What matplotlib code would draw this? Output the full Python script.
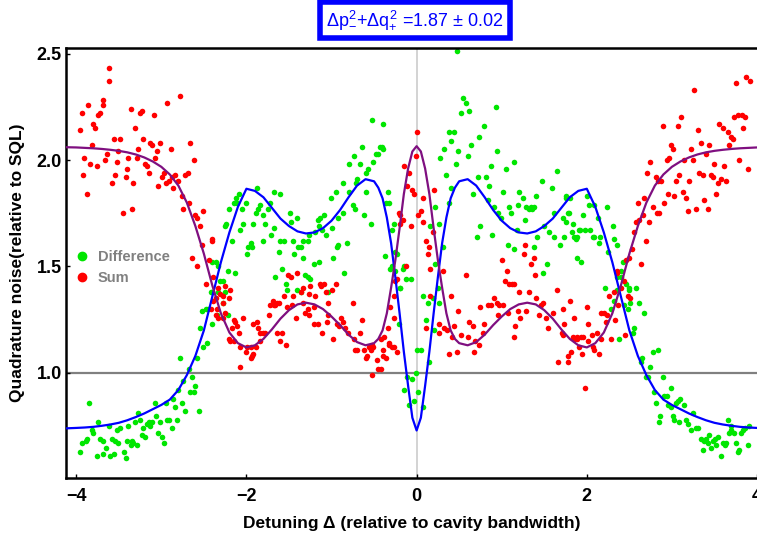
import numpy as np
import matplotlib
matplotlib.use("Agg")
import matplotlib.pyplot as plt
from matplotlib.lines import Line2D

plt.rcParams['font.family'] = ['Liberation Sans', 'DejaVu Sans']
plt.rcParams['mathtext.fontset'] = 'custom'
plt.rcParams['mathtext.rm'] = 'Liberation Sans'
plt.rcParams['mathtext.it'] = 'Liberation Sans'

# measured points: Difference (green)
diff_xy = [
    (-3.85, 0.86), (-3.95, 0.63), (-3.89, 0.68), (-3.93, 0.67), (-3.87, 0.69), (-3.81, 0.73), (-3.80, 0.72),
    (-3.74, 0.77), (-3.75, 0.61), (-3.69, 0.62), (-3.72, 0.69), (-3.68, 0.68), (-3.65, 0.65), (-3.60, 0.61),
    (-3.58, 0.69), (-3.56, 0.62), (-3.54, 0.68), (-3.51, 0.67), (-3.62, 0.75), (-3.52, 0.73), (-3.48, 0.74),
    (-3.44, 0.63), (-3.42, 0.60), (-3.40, 0.68), (-3.39, 0.75), (-3.36, 0.66), (-3.34, 0.68), (-3.33, 0.67),
    (-3.31, 0.77), (-3.28, 0.66), (-3.27, 0.81), (-3.25, 0.78), (-3.23, 0.71), (-3.21, 0.74), (-3.19, 0.70),
    (-3.17, 0.76), (-3.15, 0.77), (-3.13, 0.75), (-3.11, 0.77), (-3.07, 0.86), (-3.06, 0.80), (-3.04, 0.72),
    (-3.01, 0.77), (-2.99, 0.70), (-2.97, 0.67), (-2.95, 0.86), (-2.93, 0.78), (-2.91, 0.78), (-2.87, 0.74),
    (-2.86, 0.88), (-2.84, 0.84), (-2.81, 0.78), (-2.80, 0.92), (-2.78, 1.07), (-2.76, 0.86), (-2.74, 0.96),
    (-2.72, 0.82), (-2.68, 1.02), (-2.66, 0.91), (-2.64, 0.98), (-2.62, 0.91), (-2.60, 0.94), (-2.58, 1.07),
    (-2.56, 0.82), (-2.54, 1.21), (-2.51, 1.12), (-2.46, 1.14), (-2.52, 1.29), (-2.48, 1.30), (-2.40, 1.23),
    (-2.45, 1.30), (-2.36, 1.52), (-2.34, 1.27), (-2.33, 1.38), (-2.28, 1.43), (-2.27, 1.33), (-2.25, 1.38),
    (-2.22, 1.48), (-2.22, 1.27), (-2.40, 1.38), (-2.21, 1.77), (-2.24, 1.70),
    (-2.33, 1.50), (-2.31, 1.43), (-2.25, 1.69), (-2.17, 1.62), (-2.15, 1.80), (-2.11, 1.80), (-2.12, 1.82),
    (-2.09, 1.84), (-2.07, 1.67), (-2.05, 1.77), (-2.04, 1.70), (-2.01, 1.80), (-1.99, 1.56), (-1.98, 1.59),
    (-1.95, 1.61), (-1.93, 1.59), (-1.92, 1.70), (-1.89, 1.75), (-1.87, 1.87), (-1.86, 1.77), (-1.84, 1.79),
    (-1.81, 1.74), (-1.80, 1.62), (-1.78, 1.70), (-1.75, 1.77), (-1.72, 1.80), (-1.71, 1.65), (-1.68, 1.85),
    (-1.67, 1.68), (-1.62, 1.57), (-1.61, 1.84), (-1.60, 1.62), (-1.56, 1.62), (-1.49, 1.75), (-1.48, 1.71),
    (-1.45, 1.62), (-1.44, 1.56), (-1.40, 1.73), (-1.39, 1.59), (-1.36, 1.59), (-1.34, 1.62), (-1.33, 1.54),
    (-1.28, 1.62), (-1.27, 1.65), (-1.19, 1.66), (-1.16, 1.72), (-1.15, 1.69), (-1.14, 1.73), (-1.11, 1.67),
    (-1.09, 1.74), (-1.06, 1.65), (-1.04, 1.38), (-1.01, 1.82), (-0.99, 1.68), (-0.98, 1.54), (-0.95, 1.85),
    (-0.94, 1.59), (-0.92, 1.60), (-0.92, 1.73), (-0.87, 1.89), (-0.86, 1.75), (-0.85, 1.47), (-0.82, 1.61),
    (-0.80, 1.85), (-0.79, 1.98), (-0.75, 1.79), (-0.74, 2.02), (-0.72, 1.77), (-0.71, 1.89), (-0.70, 1.91),
    (-0.67, 1.98), (-0.64, 2.06), (-0.62, 1.74), (-0.60, 1.85), (-0.59, 1.94), (-0.57, 1.96), (-0.54, 1.70),
    (-0.51, 1.99), (-0.48, 2.03), (-0.45, 2.03), (-0.43, 2.06), (-0.41, 2.06), (-0.34, 1.85), (-0.33, 1.80),
    (-0.29, 1.67), (-0.37, 1.55), (-0.27, 1.70), (-0.23, 1.56), (-0.29, 1.50), (-0.20, 1.40), (-0.21, 1.23),
    (-2.13, 1.47), (-1.66, 1.45), (-1.58, 1.49), (-1.54, 1.42), (-1.52, 1.39), (-1.40, 1.39), (-1.36, 1.38),
    (-1.31, 1.46), (-1.28, 1.45), (-1.25, 1.44), (-1.21, 1.51), (-1.15, 1.52), (-2.40, 1.52), (-2.42, 1.38),
    (-0.52, 2.19),
    (0.48, 2.51), (-0.39, 2.17), (-0.40, 2.05), (0.54, 2.29), (0.58, 2.27), (0.52, 2.22), (0.61, 2.23),
    (0.93, 2.25), (0.79, 2.16), (0.38, 2.13), (0.44, 2.13), (0.73, 2.11), (0.40, 2.09), (0.64, 2.07),
    (0.32, 2.05), (0.49, 2.04), (0.95, 2.04), (0.60, 2.02), (0.28, 2.01), (0.46, 1.98), (0.87, 1.97),
    (1.05, 1.96), (1.14, 1.99), (0.34, 1.93), (0.72, 1.92), (0.81, 1.92), (1.65, 1.95), (0.85, 1.88),
    (0.40, 1.87), (0.66, 1.84), (1.02, 1.85), (1.20, 1.85), (1.47, 1.90), (1.59, 1.87), (1.40, 1.83),
    (1.25, 1.82), (0.84, 1.81), (1.75, 1.83), (0.38, 1.80), (0.22, 1.78), (1.19, 1.79), (1.28, 1.78),
    (1.34, 1.78), (1.38, 1.78), (0.91, 1.78), (1.08, 1.78), (1.32, 1.77), (1.36, 1.77), (0.96, 1.75),
    (1.61, 1.75), (1.79, 1.75), (1.11, 1.75), (0.99, 1.73), (-0.36, 1.80), (0.16, 1.69), (0.26, 1.70),
    (0.75, 1.69), (1.27, 1.72), (1.72, 1.73), (1.75, 1.71), (1.84, 1.70), (1.50, 1.69), (1.55, 1.66),
    (1.18, 1.67), (0.89, 1.65), (0.71, 1.64), (1.42, 1.64), (1.61, 1.64), (1.73, 1.64), (1.83, 1.66),
    (1.87, 1.63), (1.91, 1.67), (1.07, 1.60), (1.14, 1.58), (1.38, 1.59), (1.68, 1.60), (-0.25, 1.57),
    (-0.31, 1.49), (-0.15, 1.50), (-0.16, 1.49), (-0.13, 1.44), (-0.07, 1.44), (-0.25, 1.48), (-0.19, 1.40),
    (0.31, 1.59), (0.22, 1.51), (0.25, 1.40), (0.26, 1.33), (0.07, 1.36), (0.13, 1.33), (0.19, 1.35),
    (0.11, 1.25), (0.20, 1.20), (1.53, 1.51), (1.48, 1.47), (1.88, 1.54), (1.93, 1.52), (0.14, 1.05),
    (0.01, 1.11), (0.05, 1.11), (-0.11, 0.98), (-0.05, 0.97), (-0.01, 1.00), (-0.15, 0.92), (0.02, 0.91),
    (-0.03, 0.87), (-0.09, 0.85), (0.08, 0.84),
    (1.76, 1.82), (1.80, 1.82), (2.00, 1.83), (2.02, 1.79), (2.08, 1.79), (2.24, 1.78), (1.78, 1.75),
    (1.96, 1.74), (2.13, 1.73), (2.31, 1.69), (1.92, 1.67), (1.98, 1.67), (2.04, 1.67), (2.09, 1.64),
    (2.07, 1.64), (1.85, 1.64), (1.89, 1.64), (2.16, 1.64), (2.32, 1.63), (2.14, 1.61), (2.35, 1.60),
    (2.25, 1.57), (2.42, 1.52), (2.40, 1.48), (2.46, 1.42), (2.21, 1.40), (2.58, 1.40), (2.49, 1.40),
    (2.35, 1.45), (2.40, 1.45), (2.36, 1.39), (2.49, 1.39), (2.32, 1.34), (2.44, 1.32), (2.51, 1.33),
    (2.61, 1.33), (2.48, 1.30), (2.67, 1.28), (2.28, 1.30), (2.55, 1.21), (2.54, 1.19), (2.38, 1.16),
    (2.65, 1.07), (2.64, 1.05), (2.78, 1.10), (2.84, 1.11), (2.74, 1.03), (2.69, 0.98), (2.72, 0.98),
    (2.89, 0.98), (2.99, 0.93), (2.79, 0.91), (2.91, 0.89), (2.94, 0.89), (2.81, 0.86), (3.10, 0.88),
    (3.07, 0.87), (3.05, 0.86), (3.14, 0.85), (2.95, 0.85), (2.99, 0.84), (2.86, 0.80), (2.85, 0.77),
    (3.01, 0.80), (3.02, 0.78), (3.16, 0.78), (3.19, 0.76), (3.25, 0.81), (3.08, 0.77), (3.22, 0.73),
    (3.28, 0.74), (3.31, 0.74), (3.34, 0.69), (3.38, 0.68), (3.40, 0.69), (3.42, 0.67), (3.44, 0.71),
    (3.46, 0.65), (3.48, 0.68), (3.51, 0.69), (3.54, 0.70), (3.36, 0.64), (3.52, 0.66), (3.58, 0.61),
    (3.60, 0.67), (3.62, 0.66), (3.64, 0.67), (3.66, 0.78), (3.69, 0.75), (3.67, 0.72), (3.70, 0.73),
    (3.73, 0.72), (3.75, 0.67), (3.78, 0.63), (3.79, 0.64), (3.81, 0.72), (3.84, 0.73), (3.86, 0.74),
    (3.91, 0.75), (3.89, 0.66),
]

# measured points: Sum (red)
sum_xy = [
    (-3.61, 2.43), (-3.62, 2.37), (-3.95, 2.14), (-3.93, 2.22), (-3.86, 2.26), (-3.80, 2.17), (-3.78, 2.15),
    (-3.74, 2.21), (-3.72, 2.22), (-3.69, 2.26), (-3.68, 2.28), (-3.82, 2.07), (-3.91, 2.01), (-3.84, 1.98),
    (-3.92, 1.93), (-3.87, 1.84), (-3.75, 1.97), (-3.66, 2.00), (-3.64, 2.03), (-3.56, 2.10), (-3.48, 2.10),
    (-3.51, 2.04), (-3.52, 1.99), (-3.54, 1.93), (-3.58, 1.89), (-3.45, 1.75), (-3.34, 1.77), (-3.40, 1.96),
    (-3.42, 1.92), (-3.39, 2.01), (-3.28, 2.01), (-3.36, 2.24), (-3.31, 2.15), (-3.33, 1.89), (-3.27, 2.05),
    (-3.25, 2.22), (-3.23, 2.23), (-3.21, 2.10), (-3.19, 1.98), (-3.17, 1.97), (-3.15, 1.94), (-3.13, 2.08),
    (-3.11, 2.07), (-3.09, 2.21), (-3.07, 2.01), (-3.05, 2.04), (-3.04, 1.88), (-3.01, 2.08), (-2.99, 1.92),
    (-2.97, 1.94), (-2.95, 1.89), (-2.93, 2.27), (-2.91, 1.90), (-2.89, 2.05), (-2.87, 1.92), (-2.86, 1.87),
    (-2.84, 1.93), (-2.80, 1.90), (-2.78, 2.30), (-2.76, 1.83), (-2.74, 1.77), (-2.72, 1.93), (-2.69, 1.94),
    (-2.67, 1.80), (-2.66, 2.08), (-2.62, 2.00), (-2.60, 1.74), (-2.58, 1.73), (-2.54, 1.69), (-2.51, 1.76),
    (-2.40, 1.63),
    (-2.64, 1.54), (-2.58, 1.50), (-2.52, 1.60), (-2.40, 1.62), (-2.44, 1.53), (-2.48, 1.42), (-2.39, 1.34),
    (-2.42, 1.30), (-2.36, 1.27), (-2.33, 1.40), (-2.31, 1.37), (-2.27, 1.36), (-2.25, 1.41), (-2.21, 1.35),
    (-2.34, 1.30), (-2.27, 1.26), (-2.21, 1.16), (-2.36, 1.35),
    (-2.39, 1.45), (-2.19, 1.39), (-2.33, 1.26), (-2.28, 1.33), (-2.25, 1.28), (-2.15, 1.25), (-2.13, 1.24),
    (-2.17, 1.21), (-2.11, 1.22), (-2.09, 1.19), (-2.04, 1.26), (-2.19, 1.15), (-2.15, 1.15), (-2.07, 1.12),
    (-1.99, 1.12), (-2.01, 1.10), (-1.95, 1.12), (-1.89, 1.12), (-1.93, 1.08), (-1.92, 1.09), (-1.95, 1.07),
    (-2.07, 1.03), (-1.92, 1.23), (-1.87, 1.24), (-1.86, 1.21), (-1.84, 1.19), (-1.80, 1.19), (-1.78, 1.19),
    (-1.84, 1.15), (-1.74, 1.27), (-1.72, 1.32), (-1.69, 1.34), (-1.68, 1.32), (-1.66, 1.32), (-1.64, 1.33),
    (-1.62, 1.33), (-1.64, 1.19), (-1.58, 1.19), (-1.60, 1.15), (-1.54, 1.13), (-1.56, 1.36), (-1.52, 1.31),
    (-1.51, 1.46), (-1.48, 1.45), (-1.46, 1.32), (-1.45, 1.36), (-1.42, 1.26), (-1.40, 1.47), (-1.36, 1.38),
    (-1.34, 1.33), (-1.33, 1.40), (-1.31, 1.28), (-1.28, 1.30), (-1.27, 1.37), (-1.27, 1.27), (-1.25, 1.41),
    (-1.21, 1.31), (-1.19, 1.36), (-1.21, 1.23), (-1.16, 1.23), (-1.14, 1.42), (-1.12, 1.41), (-1.09, 1.42),
    (-1.07, 1.38), (-1.05, 1.24), (-1.04, 1.27), (-1.11, 1.19), (-1.04, 1.33), (-0.99, 1.39), (-0.95, 1.42),
    (-0.93, 1.23), (-0.91, 1.22), (-0.89, 1.26), (-0.87, 1.24), (-0.98, 1.16), (-0.84, 1.21), (-0.81, 1.19),
    (-0.75, 1.33), (-0.73, 1.16), (-0.72, 1.11), (-0.70, 1.11), (-0.67, 1.19), (-0.64, 1.25), (-0.62, 1.11),
    (-0.60, 1.07), (-0.58, 1.08), (-0.56, 1.12), (-0.54, 1.11), (-0.52, 1.13), (-0.51, 1.12), (-0.47, 1.06),
    (-0.45, 1.02), (-0.53, 0.99), (-0.40, 1.11), (-0.39, 1.08), (-0.42, 1.16), (-0.33, 1.14), (-0.29, 1.12),
    (-0.27, 1.26), (-0.26, 1.36), (-0.23, 1.44), (-0.20, 1.74),
    (0.01, 2.13), (-0.15, 1.97), (-0.09, 1.94), (-0.11, 1.88), (-0.05, 1.86), (-0.03, 1.84), (0.20, 1.86),
    (-0.01, 2.02), (0.08, 1.82), (0.05, 1.76), (0.02, 1.74), (0.07, 1.71), (-0.21, 1.75), (-0.16, 1.72),
    (-0.19, 1.70), (-0.07, 1.69), (0.19, 1.66), (0.11, 1.62), (0.14, 1.59), (0.13, 1.56), (0.16, 1.49),
    (-0.13, 1.50), (-0.25, 1.43), (-0.31, 1.31), (0.31, 1.48), (0.40, 1.36), (0.26, 1.23), (0.32, 1.21),
    (0.26, 1.19), (0.36, 1.20), (0.42, 1.17), (0.44, 1.22), (0.49, 1.29), (0.52, 1.18), (0.47, 1.10),
    (0.38, 1.09), (0.58, 1.46), (0.61, 1.24), (0.60, 1.17), (0.66, 1.22), (0.69, 1.15), (0.67, 1.10),
    (0.73, 1.13), (0.78, 1.19), (0.75, 1.31), (0.79, 1.23), (0.84, 1.32), (0.87, 1.32), (0.91, 1.35),
    (0.94, 1.33), (0.97, 1.32), (0.96, 1.27), (1.02, 1.32), (1.07, 1.28), (1.14, 1.17), (1.16, 1.22),
    (1.19, 1.29), (1.22, 1.26), (1.29, 1.29), (1.20, 1.38), (1.32, 1.38), (1.40, 1.35), (1.46, 1.32),
    (1.49, 1.33), (1.44, 1.27), (1.52, 1.26), (1.54, 1.21), (1.60, 1.28), (1.65, 1.39), (1.72, 1.30),
    (1.73, 1.23), (1.71, 1.19), (1.80, 1.34), (1.85, 1.26), (1.85, 1.16), (1.89, 1.16), (1.91, 1.12),
    (1.82, 1.10), (1.78, 1.08), (1.66, 1.05), (1.04, 1.43), (1.08, 1.42), (1.12, 1.42), (1.15, 1.42),
    (1.06, 1.48), (1.00, 1.53), (1.26, 1.56), (1.27, 1.60), (1.38, 1.54), (1.34, 1.51), (1.39, 1.46),
    (0.16, 1.36), (0.11, 1.21), (-0.34, 1.21), (-0.38, 1.17), (-0.33, 1.13), (-0.27, 1.12), (-0.23, 1.10),
    (-0.36, 1.07), (-0.42, 1.02),
    (3.87, 2.39), (3.92, 2.37), (3.26, 2.33), (3.75, 2.36), (3.73, 2.20), (3.78, 2.21), (3.82, 2.21),
    (3.86, 2.20), (3.11, 2.20), (3.07, 2.16), (2.89, 2.16), (3.31, 2.14), (3.55, 2.17), (3.60, 2.15),
    (3.66, 2.13), (3.69, 2.11), (3.72, 2.10), (3.84, 2.15), (2.99, 2.07), (3.01, 2.05), (3.34, 2.08),
    (3.44, 2.07), (3.67, 2.07), (3.22, 2.05), (3.40, 2.03), (2.94, 2.00), (2.97, 2.01), (3.14, 2.00),
    (3.25, 2.00), (3.79, 2.00), (2.74, 1.99), (3.49, 1.98), (3.61, 1.97), (3.89, 1.96), (2.71, 1.94),
    (3.32, 1.94), (3.36, 1.93), (3.46, 1.93), (3.48, 1.92), (3.08, 1.93), (2.81, 1.92), (2.84, 1.90),
    (2.87, 1.90), (3.05, 1.90), (3.20, 1.90), (3.58, 1.91), (3.64, 1.90), (3.54, 1.89), (3.13, 1.85),
    (2.95, 1.84), (3.52, 1.84), (3.02, 1.83), (3.16, 1.82), (2.67, 1.82), (2.60, 1.80), (2.91, 1.80),
    (3.38, 1.81), (2.78, 1.78), (3.19, 1.76), (3.28, 1.77), (3.42, 1.77), (2.82, 1.75), (2.85, 1.75),
    (2.66, 1.74), (2.58, 1.71), (2.61, 1.72), (2.73, 1.71), (2.55, 1.66), (2.69, 1.62), (2.53, 1.58),
    (2.49, 1.54), (2.64, 1.51), (2.46, 1.53), (2.36, 1.48), (2.40, 1.40),
    (2.00, 1.31), (2.01, 1.23), (1.72, 1.18), (1.84, 1.17), (1.89, 1.17), (1.93, 1.17), (1.95, 1.17),
    (1.94, 1.09), (1.78, 1.05), (2.01, 1.15), (2.06, 1.18), (2.12, 1.19), (2.07, 1.12), (2.09, 1.11),
    (2.14, 1.09), (2.17, 1.16), (2.29, 1.16), (2.17, 1.28), (2.20, 1.28), (2.24, 1.27), (2.23, 1.24),
    (2.33, 1.25), (2.26, 1.36), (2.32, 1.38), (2.36, 1.47), (2.37, 1.32), (2.45, 1.18), (2.48, 1.36),
    (2.51, 1.35), (2.44, 1.43), (1.98, 0.93),
]

# model curves
curve_x = [-4.12, -4.0, -3.9, -3.8, -3.7, -3.6, -3.5, -3.4, -3.3, -3.2, -3.1, -3.0, -2.9, -2.8, -2.7,
           -2.6, -2.5, -2.4, -2.3, -2.2, -2.1, -2.0, -1.9, -1.8, -1.7, -1.6, -1.5, -1.4, -1.3, -1.2,
           -1.1, -1.0, -0.9, -0.8, -0.7, -0.6, -0.5, -0.45, -0.4, -0.35, -0.3, -0.25, -0.2, -0.15, -0.1,
           -0.05, 0.0, 0.05, 0.1, 0.15, 0.2, 0.25, 0.3, 0.35, 0.4, 0.45, 0.5, 0.6, 0.7, 0.8, 0.9, 1.0,
           1.1, 1.2, 1.3, 1.4, 1.5, 1.6, 1.7, 1.8, 1.9, 2.0, 2.1, 2.2, 2.3, 2.4, 2.5, 2.6, 2.7, 2.8,
           2.9, 3.0, 3.1, 3.2, 3.3, 3.4, 3.5, 3.6, 3.7, 3.8, 3.9, 4.0]
curve_diff = [0.740, 0.742, 0.744, 0.747, 0.752, 0.758, 0.766, 0.778, 0.793, 0.810, 0.830, 0.850, 0.875,
              0.920, 0.990, 1.080, 1.200, 1.360, 1.520, 1.660, 1.780, 1.865, 1.855, 1.825, 1.775, 1.725,
              1.690, 1.665, 1.655, 1.660, 1.680, 1.715, 1.765, 1.825, 1.880, 1.910, 1.900, 1.870, 1.820,
              1.730, 1.610, 1.450, 1.280, 1.100, 0.940, 0.790, 0.730, 0.790, 0.940, 1.100, 1.280, 1.450,
              1.610, 1.730, 1.820, 1.870, 1.900, 1.910, 1.880, 1.825, 1.765, 1.715, 1.680, 1.660, 1.655,
              1.665, 1.690, 1.725, 1.775, 1.825, 1.855, 1.865, 1.780, 1.660, 1.520, 1.360, 1.200, 1.080,
              0.990, 0.920, 0.875, 0.850, 0.830, 0.810, 0.793, 0.778, 0.766, 0.758, 0.752, 0.747, 0.744,
              0.742]
curve_sum = [2.060, 2.059, 2.057, 2.055, 2.052, 2.048, 2.043, 2.036, 2.026, 2.012, 1.993, 1.968, 1.932,
             1.880, 1.800, 1.690, 1.560, 1.410, 1.280, 1.190, 1.140, 1.120, 1.130, 1.160, 1.205, 1.255,
             1.295, 1.322, 1.330, 1.322, 1.300, 1.265, 1.225, 1.180, 1.145, 1.130, 1.140, 1.160, 1.200,
             1.280, 1.400, 1.530, 1.680, 1.840, 1.960, 2.040, 2.065, 2.040, 1.960, 1.840, 1.680, 1.530,
             1.400, 1.280, 1.200, 1.160, 1.140, 1.130, 1.145, 1.180, 1.225, 1.265, 1.300, 1.322, 1.330,
             1.322, 1.295, 1.255, 1.205, 1.160, 1.130, 1.120, 1.140, 1.190, 1.280, 1.410, 1.560, 1.690,
             1.800, 1.880, 1.932, 1.968, 1.993, 2.012, 2.026, 2.036, 2.043, 2.048, 2.052, 2.055, 2.057,
             2.059]

x_ticks = [-4, -2, 0, 2, 4]
y_ticks = [1.0, 1.5, 2.0, 2.5]

diff = np.array(diff_xy)
summ = np.array(sum_xy)

fig = plt.figure(figsize=(7.57, 5.41), dpi=100)
ax = fig.add_axes([0.0872, 0.1165, 0.9128, 0.7948])

ax.axvline(0, color='#d0d0d0', lw=1.3, zorder=1)
ax.axhline(1.0, color='#808080', lw=1.6, zorder=1)

ax.scatter(diff[:, 0], diff[:, 1], s=16, color='#00e600', linewidths=0, zorder=2)
ax.scatter(summ[:, 0], summ[:, 1], s=16, color='#ff0000', linewidths=0, zorder=2)

ax.plot(curve_x, curve_diff, color='#0000ff', lw=1.6, zorder=3)
ax.plot(curve_x, curve_sum, color='#7f0f80', lw=1.6, zorder=3)

ax.set_xlim(-4.12, 4.0)
ax.set_ylim(0.507, 2.526)
ax.set_xticks(x_ticks)
ax.set_xticklabels(['\u22124', '\u22122', '0', '2', '4'])
ax.set_yticks(y_ticks)
ax.set_yticklabels(['1.0', '1.5', '2.0', '2.5'])
ax.tick_params(direction='in', length=3, width=1, labelsize=13)
ax.tick_params(axis='y', pad=3)
ax.tick_params(axis='x', pad=7)
for lab in ax.get_xticklabels() + ax.get_yticklabels():
    lab.set_fontweight('bold')

for s in ['left', 'bottom', 'top']:
    ax.spines[s].set_linewidth(1.8)
ax.spines['right'].set_visible(False)

ax.set_xlabel('Detuning \u0394 (relative to cavity bandwidth)', fontsize=12.5, fontweight='bold', labelpad=8)
ax.set_ylabel('Quadrature noise(relative to SQL)', fontsize=12.5, fontweight='bold', labelpad=8)

handles = [Line2D([], [], marker='o', ls='', color='#00e600', ms=6),
           Line2D([], [], marker='o', ls='', color='#ff0000', ms=6)]
ax.legend(handles, ['Difference', 'Sum'], loc='upper left', bbox_to_anchor=(-0.005, 0.56),
          frameon=False, handlelength=0.8, handletextpad=0.7, labelspacing=0.45,
          prop={'weight': 'bold', 'size': 10.5}, labelcolor='#808080')

fig.text(0.548, 0.963, r'$\Delta p_{-}^{2}$+$\Delta q_{+}^{2}$ =1.87 $\pm$ 0.02', color='#0000ff',
         fontsize=13, ha='center', va='center',
         bbox=dict(boxstyle='square,pad=0.35', fc='white', ec='#0000ff', lw=4))

fig.savefig('out.png', dpi=100)
